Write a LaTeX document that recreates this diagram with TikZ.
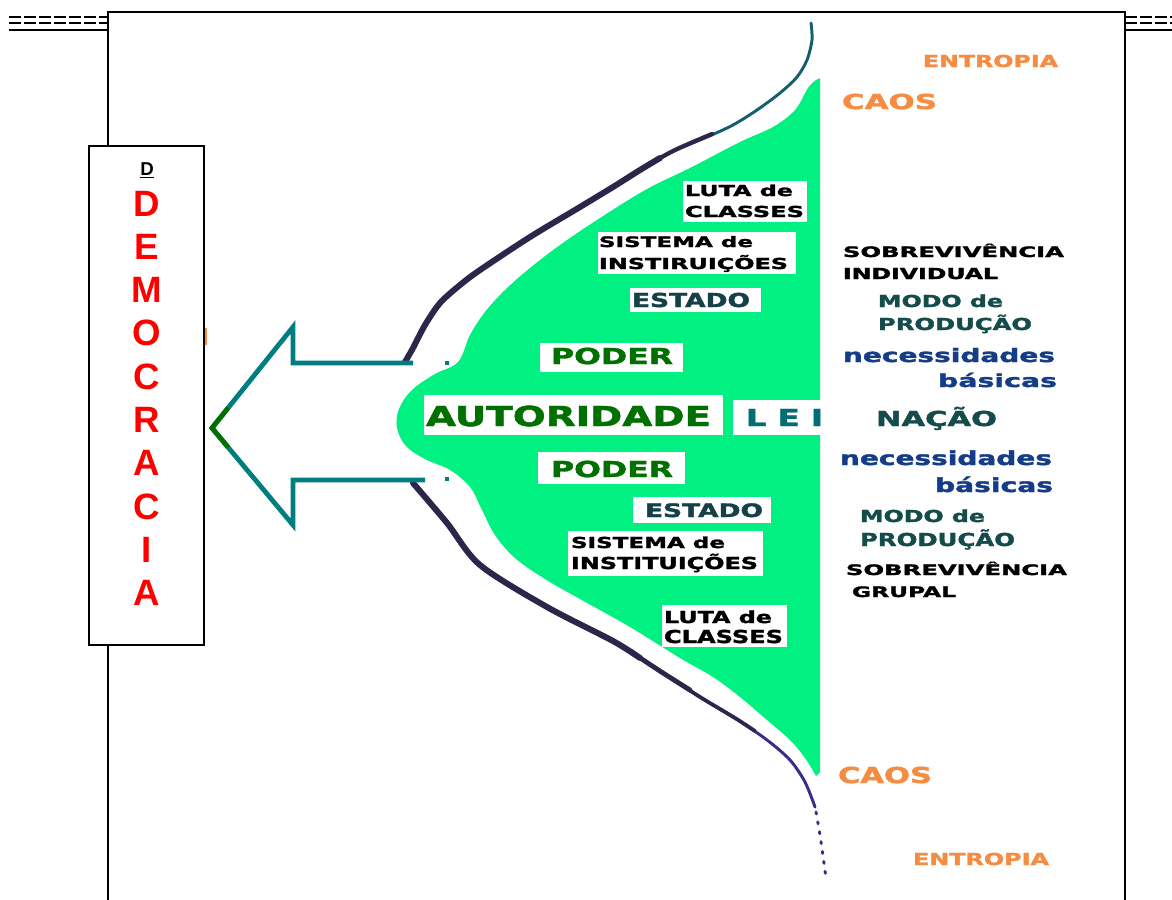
\documentclass[tikz,border=0pt]{standalone}
\usepackage{fontspec}
\usepackage{graphicx}
\newfontfamily\heavy{DejaVu Sans}[BoldFeatures={FakeBold=1.6}]
\newfontfamily\arialb{Liberation Sans}
% label text: #1 = cap height (px), #2 = line width (px), #3 = text
\newcommand\lab[3]{\resizebox{\dimexpr #2pt*3/4\relax}{\height}{\heavy\bfseries\fontsize{\fpeval{#1*1.03}}{\fpeval{#1*1.3}}\selectfont #3}}
\definecolor{sgreen}{RGB}{0,240,130}
\definecolor{orangeT}{RGB}{245,140,65}
\definecolor{estadoC}{RGB}{20,65,70}
\definecolor{dkgreen}{RGB}{0,112,0}
\definecolor{leiC}{RGB}{0,110,115}
\definecolor{modoC}{RGB}{20,75,75}
\definecolor{necC}{RGB}{20,60,135}
\definecolor{arrowC}{RGB}{0,125,128}
\definecolor{curveC}{RGB}{45,38,75}
\definecolor{curveT}{RGB}{20,95,110}
\definecolor{curveB}{RGB}{55,45,140}
\tikzset{
  frameline/.style={line width=1.5pt, black},
  dashline/.style={line width=1.1pt, black, dash pattern=on 9pt off 2.2pt},
  demobox/.style={draw=black, line width=1.3pt, fill=white, minimum width=86.25pt, minimum height=374.25pt, inner sep=0pt},
  redletter/.style={text=red, font=\arialb\bfseries\fontsize{27.5}{30}\selectfont, inner sep=0pt},
  txt/.style={inner sep=0pt, outer sep=0pt, anchor=base west},
  wbox/.style={fill=white},
  darkcurve/.style={draw=curveC, line width=4.5pt, line cap=round},
  thincurve/.style={draw=curveT, line width=2.2pt, line cap=round},
  arrowline/.style={draw=arrowC, line width=3.6pt, line join=miter},
}
\begin{document}
\begin{tikzpicture}[x=0.75pt, y=-0.75pt]
\useasboundingbox (0,0) rectangle (1172,900);
\fill[white] (0,0) rectangle (1172,900);

% page frame and double rules
\draw[frameline] (108,900) -- (108,12) -- (1125,12) -- (1125,900);
\draw[dashline] (9,17) -- (108,17);
\draw[dashline] (9,23) -- (108,23);
\draw[frameline] (9,30) -- (108,30);
\draw[dashline] (1125,17) -- (1172,17);
\draw[dashline] (1125,23) -- (1172,23);
\draw[frameline] (1125,30) -- (1172,30);

% green field
\fill[sgreen] (820,78) -- (820,772) -- plot[smooth, tension=0.6] coordinates {
 (816,776) (805,758) (790,740) (767,720) (740,697) (713,677) (680,658) (630,627)
 (580,599) (545,579) (515,558) (495,535) (482,510) (470,487) (450,470)
 (425,459) (406,446) (397,428) (399,409) (412,390) (435,374) (458,362)
 (470,335) (485,312) (505,290) (530,268) (560,245) (600,218) (647,189)
 (690,168) (740,142) (773,127) (795,110) (808,88) (816,80)} -- cycle;

% white label boxes
\fill[wbox] (683,181) rectangle (807,222);
\fill[wbox] (598,232) rectangle (796,274);
\fill[wbox] (630,288) rectangle (761,312);
\fill[wbox] (540,343) rectangle (683,372);
\fill[wbox] (424,395) rectangle (723,435);
\fill[wbox] (733,400) rectangle (826,435);
\fill[wbox] (538,452) rectangle (685,484);
\fill[wbox] (633,497) rectangle (771,523);
\fill[wbox] (568,531) rectangle (763,576);
\fill[wbox] (662,605) rectangle (787,647);

% labels inside the green field
\node[txt] (lutaA1) at (685,196) {\lab{11}{108}{LUTA de}};
\node[txt] (lutaA2) at (685,217) {\lab{11}{119}{CLASSES}};
\node[txt] (sisA1) at (599,247) {\lab{10.5}{154}{SISTEMA de}};
\node[txt] (sisA2) at (599,269) {\lab{11}{189}{INSTIRUIÇÕES}};
\node[txt, text=estadoC] (estA) at (632,307) {\lab{14}{118}{ESTADO}};
\node[txt, text=dkgreen] (podA) at (551,364) {\lab{16}{122}{PODER}};
\node[txt, text=dkgreen] (aut) at (426,426) {\lab{20}{285}{AUTORIDADE}};
\node[txt, text=leiC] (lei) at (746,426) {\lab{17}{77}{L E I}};
\node[txt, text=dkgreen] (podB) at (551,477) {\lab{16}{122}{PODER}};
\node[txt, text=estadoC] (estB) at (645,517) {\lab{13.5}{118}{ESTADO}};
\node[txt] (sisB1) at (571,548) {\lab{11}{154}{SISTEMA de}};
\node[txt] (sisB2) at (571,569) {\lab{12}{187}{INSTITUIÇÕES}};
\node[txt] (lutaB1) at (664,623) {\lab{12}{108}{LUTA de}};
\node[txt] (lutaB2) at (664,643) {\lab{13}{119}{CLASSES}};

% labels on the right
\node[txt, text=orangeT] (entA) at (923,67) {\lab{12}{135}{ENTROPIA}};
\node[txt, text=orangeT] (caosA) at (842,109) {\lab{15}{95}{CAOS}};
\node[txt] (sobA1) at (843,257) {\lab{10.5}{221}{SOBREVIVÊNCIA}};
\node[txt] (sobA2) at (843,279) {\lab{11}{155}{INDIVIDUAL}};
\node[txt, text=modoC] (modoA1) at (878,307) {\lab{12}{125}{MODO de}};
\node[txt, text=modoC] (modoA2) at (878,330) {\lab{12}{154}{PRODUÇÃO}};
\node[txt, text=necC] (necA1) at (843,362) {\lab{13.5}{212}{necessidades}};
\node[txt, text=necC] (necA2) at (938,387) {\lab{13}{119}{básicas}};
\node[txt, text=modoC] (nacao) at (876,426) {\lab{15}{121}{NAÇÃO}};
\node[txt, text=necC] (necB1) at (840,465) {\lab{14}{212}{necessidades}};
\node[txt, text=necC] (necB2) at (935,492) {\lab{14}{118}{básicas}};
\node[txt, text=modoC] (modoB1) at (860,522) {\lab{12}{125}{MODO de}};
\node[txt, text=modoC] (modoB2) at (860,546) {\lab{13}{155}{PRODUÇÃO}};
\node[txt] (sobB1) at (846,575) {\lab{10.5}{221}{SOBREVIVÊNCIA}};
\node[txt] (sobB2) at (852,597) {\lab{10.5}{104}{GRUPAL}};
\node[txt, text=orangeT] (caosB) at (838,783) {\lab{16}{94}{CAOS}};
\node[txt, text=orangeT] (entB) at (913,865) {\lab{12}{136}{ENTROPIA}};

% upper boundary curve: thin teal top, dark body tapering towards it
\draw[thincurve] plot[smooth] coordinates {(673,151) (707,137) (733,125) (757,110) (780,93) (797,77) (807,60) (812,40) (811,23)};
\draw[curveC, line width=3.2pt, line cap=round] plot[smooth] coordinates {(613,187) (640,170) (673,151) (712,134)};
\draw[darkcurve] plot[smooth] coordinates {(405,362) (413,348) (425,325) (440,303) (460,285) (480,270) (530,237) (580,207) (613,187) (640,170) (660,158)};

% lower boundary curve: thin line, thickened in steps along its upper part
\draw[curveB, line width=2.2pt, line cap=round] plot[smooth] coordinates {(413,483) (447,523) (480,565) (547,607) (613,641) (663,673) (700,697) (735,718) (767,740) (790,760) (805,782) (815,807)};
\draw[curveC, line width=2.8pt, line cap=round] plot[smooth] coordinates {(413,483) (447,523) (480,565) (547,607) (613,641) (663,673) (700,697) (735,718) (755,731)};
\draw[curveC, line width=3.6pt, line cap=round] plot[smooth] coordinates {(413,483) (447,523) (480,565) (547,607) (613,641) (663,673) (690,690)};
\draw[darkcurve] plot[smooth] coordinates {(413,483) (447,523) (480,565) (547,607) (613,641) (640,658)};
\draw[curveB, line width=2.2pt, line cap=round, dash pattern=on 1.5pt off 6pt] plot[smooth] coordinates {(816,812) (820,835) (823,856) (826,878)};

% small marks beside the arrow mouth
\fill[arrowC] (445,361) rectangle (449,365);
\fill[arrowC] (445,477) rectangle (449,481);
\fill[orangeT] (205,328) rectangle (207,345);

% arrow
\draw[arrowline] (413,363) -- (293,363) -- (293,327) -- (212,428) -- (293,525) -- (293,480) -- (425,480);
\draw[dkgreen, line width=3.6pt, line join=miter] (228.2,407.8) -- (212,428) -- (228.2,447.4);

% DEMOCRACIA column
\node[demobox] (demo) at (146.5,395.5) {};
\node[inner sep=0pt, anchor=base, font=\arialb\bfseries\fontsize{14}{15}\selectfont] (dsmall) at (147,175) {\underline{D}};
\foreach \L [count=\i from 0] in {D,E,M,O,C,R,A,C,I,A}
  \node[redletter, anchor=base] (letter\i) at (147,{216+43.3*\i}) {\L};
\end{tikzpicture}
\end{document}
